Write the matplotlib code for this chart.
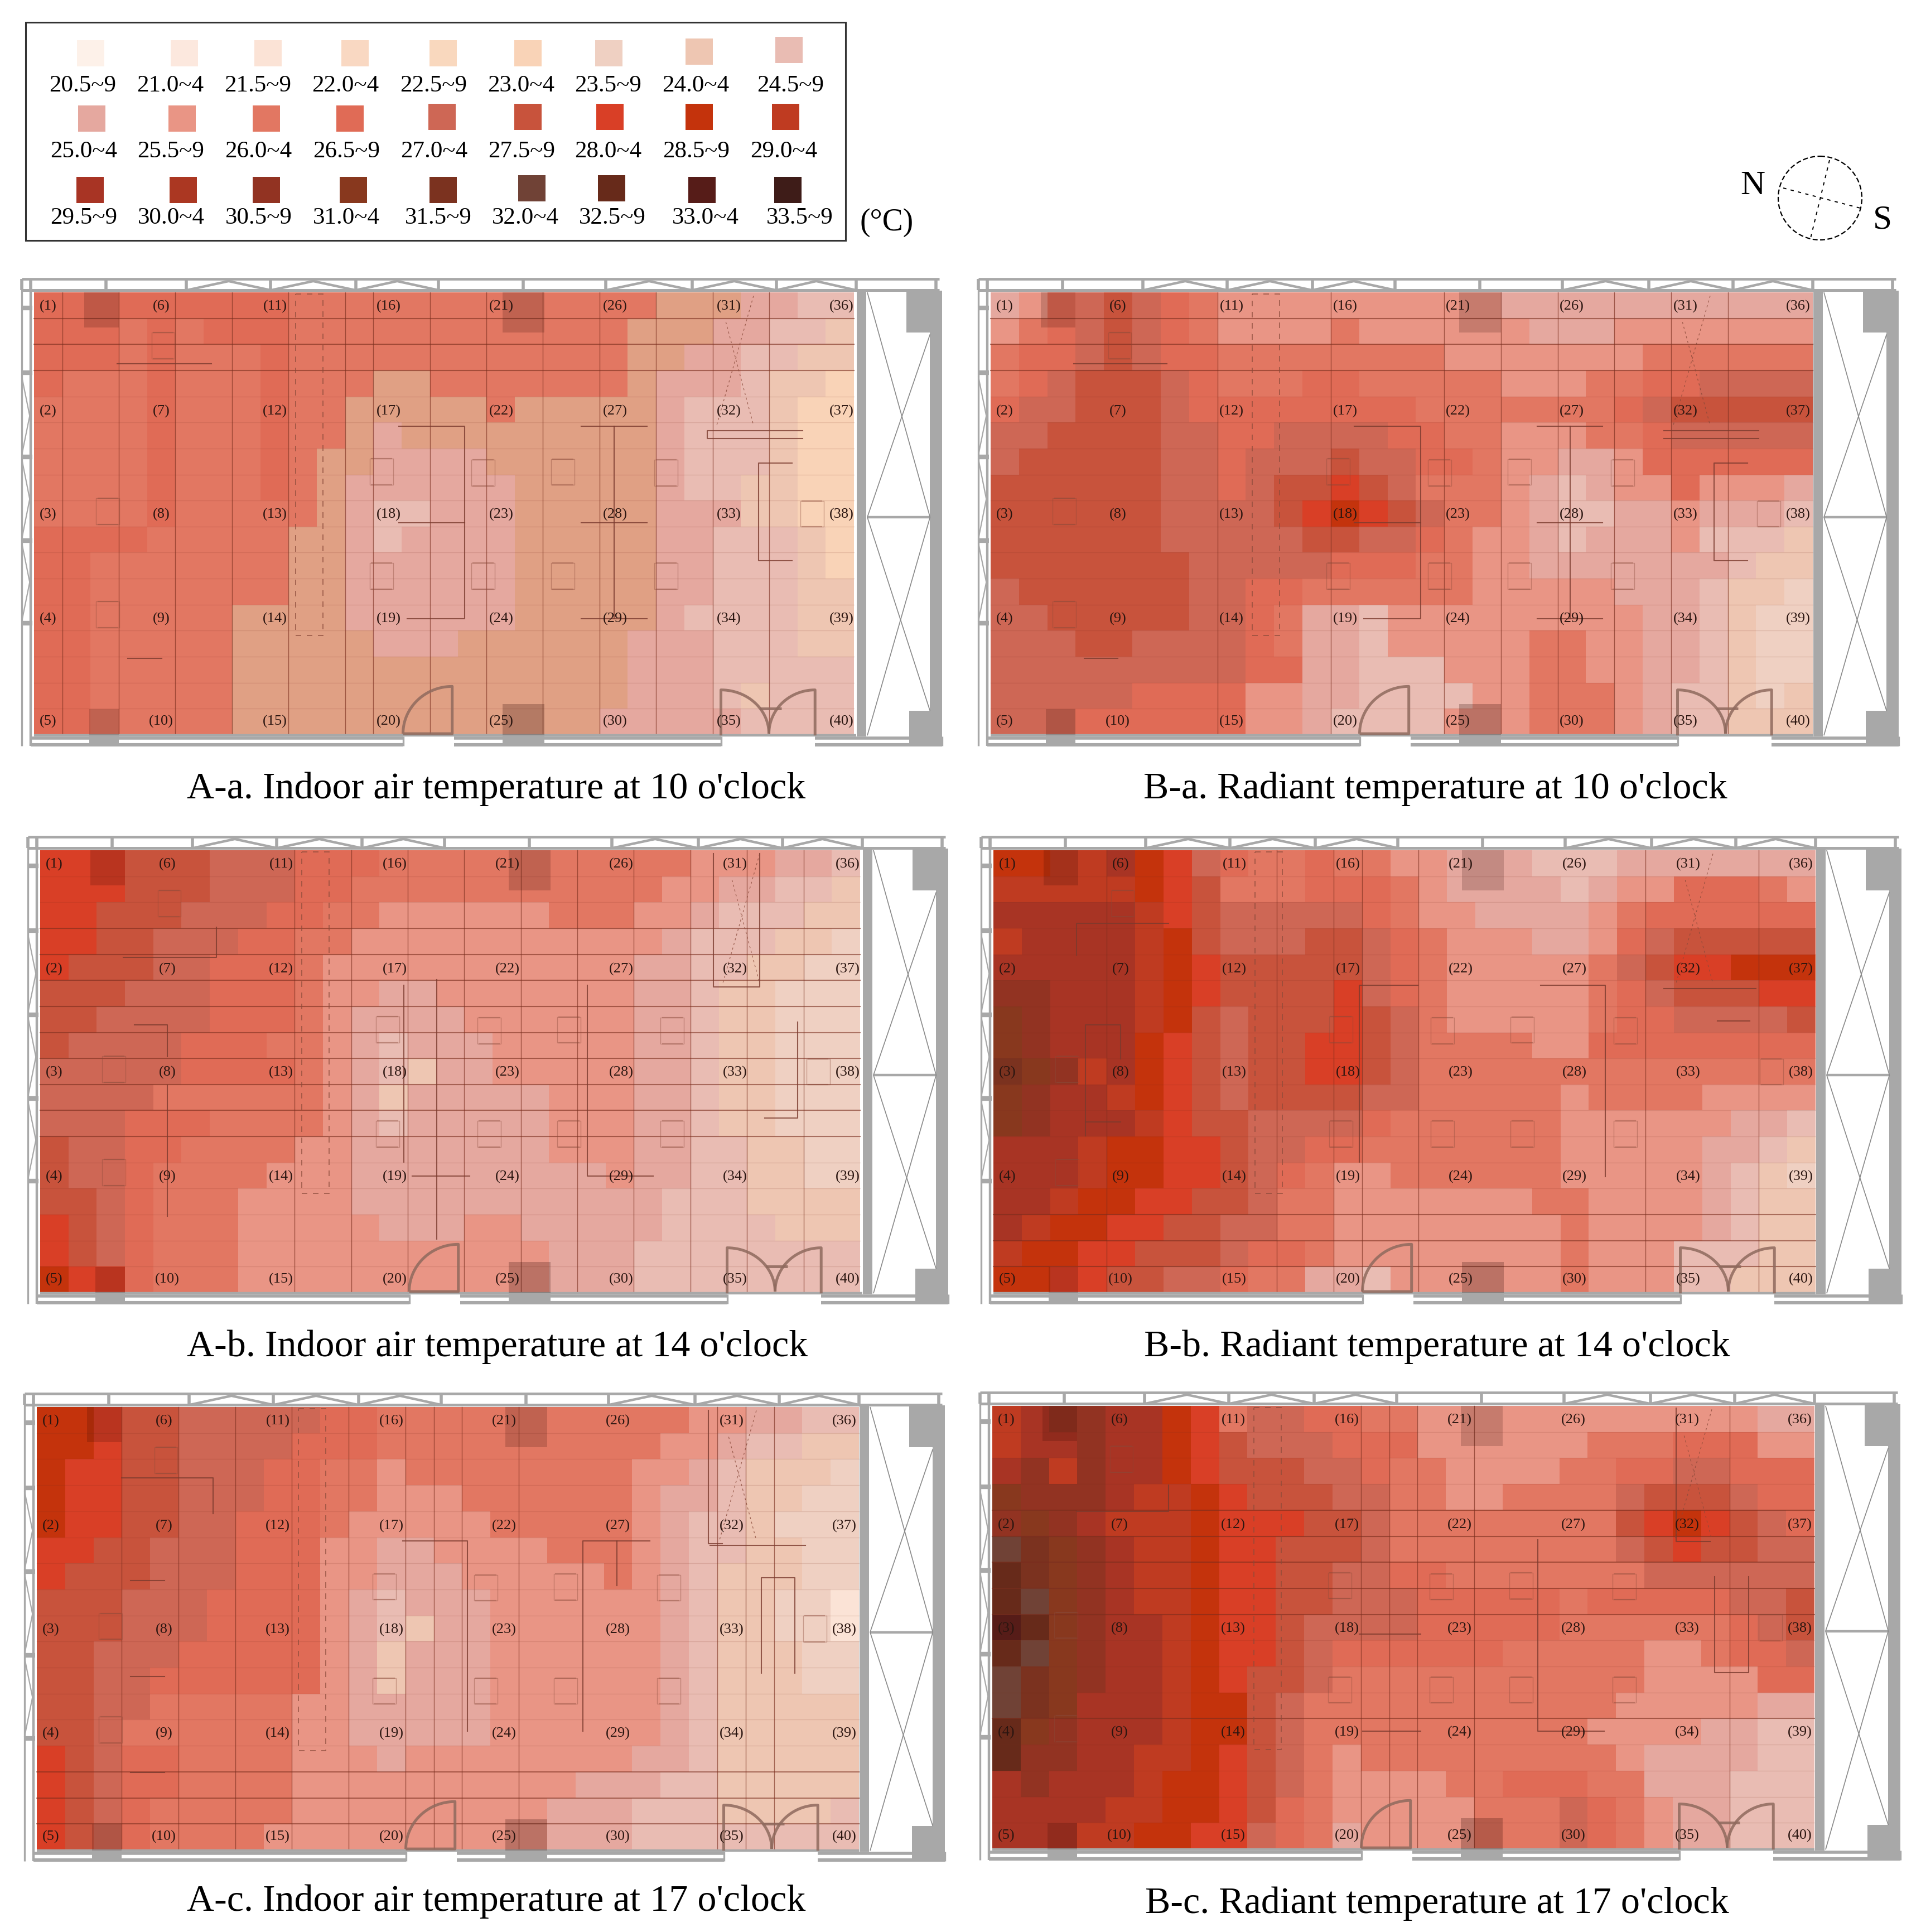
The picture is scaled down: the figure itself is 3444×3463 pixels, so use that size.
import numpy as np
import matplotlib
matplotlib.use('Agg')
import matplotlib.pyplot as plt
from matplotlib.colors import ListedColormap, BoundaryNorm
from matplotlib.patches import Rectangle, Circle

plt.rcParams['font.family'] = ['Liberation Serif', 'DejaVu Sans']

# one letter per temperature class, a = 20.5~9 ... z = 33.0~4, 0 = 33.5~9
level_codes = 'abcdefghijklmnopqrstuvwxyz0'
level_temps = [20.5 + 0.5 * i for i in range(27)]
level_colors = ['#FDF1E9', '#FCE8DE', '#FBE3D6', '#F9D8C2', '#F9D8BE', '#F9D3B7', '#EFD0C2', '#EEC6B2', '#E9BCB3',
                '#E5A89F', '#E99585', '#E27762', '#E06B56', '#CE6755', '#C8533C', '#D93F26', '#C4330C', '#BF3B21',
                '#A83424', '#AB3722', '#923322', '#88381E', '#7B321F', '#704236', '#672A1A', '#561C18', '#3E1C18']
legend_labels = ['20.5~9', '21.0~4', '21.5~9', '22.0~4', '22.5~9', '23.0~4', '23.5~9', '24.0~4', '24.5~9',
                 '25.0~4', '25.5~9', '26.0~4', '26.5~9', '27.0~4', '27.5~9', '28.0~4', '28.5~9', '29.0~4',
                 '29.5~9', '30.0~4', '30.5~9', '31.0~4', '31.5~9', '32.0~4', '32.5~9', '33.0~4', '33.5~9']

air_10 = [
    'mmmmmmmmmlllllllllllllkkkjjii', 'mmmlmlmmmllllllllllllkkkjjiih', 'mmmlmlllmllllllllllllkkjjiihh',
    'mlllmlllmlllkklllllllkjjjihhf', 'llllmlllmllkkkkklkkkkkjiiihff', 'llllmlllmllkjkkkkkkkkkjiiihff',
    'llllmlllmlkkjjjjkkkkkkjiiihff', 'llllmlllmlkjjjjjjkkkkkjiihhff', 'llllmlllllkjiijjjkkkkkjjjhhff',
    'mmmmlllllkkjijjjjkkkkkjjiiihf', 'mmlllllllkkjjjjjjkkkkkjjiiihf', 'mmlllllllkkjjjjjjkkkkkjjiiihh',
    'mmlllllkkkkjjjjjjkkkkkjiiiihh', 'mmlllllkkkkkjjjkkkkkkjjjiiihh', 'mmlllllkkkkkkkkkkkkkkjjjiiiii',
    'mmlllllkkkkkkkkkkkkkkjjjihiii', 'mmlllllkkkkkkkkkkkkkjjjjjiiii']
radiant_10 = [
    'jkmnonmlkkkkkkkkkkjjjjjjjjjjj', 'klmnonmlkkkklkkkkkkjjjkkkkkkk', 'lmmnonmmllllllllkkkkkkkllllll',
    'lmnooonmlllmmlllllkkkllmmnnnn', 'mnnooonmmmmmmmmlllllllmnooooo', 'nnoooonnmmnnnnmmllkkkllmnnnnn',
    'nooooonnmnnnonnmmlkkjjkmmmmmm', 'oooooonnmnooponlllkjijkkmkkkj', 'oooooonnnnopqponllkjiijjkjjji',
    'oooooonnnnnoonnmlkkjijjjkiiih', 'ooooooonnnnnmmmllkkjjjjjjjihh', 'noooooonnmmllllllkkkkkjjjihhg',
    'nnooooonnmljjikkkkkkkkkjjihgg', 'nnnoonnnnmljjikkkkkllkkjjihgg', 'nnnnnnnnnmmjjiiikkkllkkjjihgg',
    'nnnnnmmmmkkjjiiiikklllkjiihgh', 'nnnmmmmmmkkjiiiikkklllkjiihhh']
air_14 = [
    'pppooonnnmmmlllllllllllkkkjji', 'pppooonnnmmlllllllllllkkjjiih', 'ppooonnnmmllkkkkkklllkkjiiihh',
    'ppoonnnmmllkkkkkkkkkkkjiiihhg', 'pooonnmmmlkkkkkkkkkkkjjiihhgg', 'ooonnnmmmlkkjjkkkkkkkjjihhggg',
    'oonnnnmmmlkjjjjkkkkkkjjihhggg', 'onnnnmmmllkjijjjkkkkkjjihhggg', 'nnnnnmmmmlkjihjjkkkkkjjihhggg',
    'nnnnllllllkjhjjjjjkkkjjihhggg', 'nnnmmmllllkjijjjjjkkkjjihhggg', 'onnmmllllkkjjjjjjjkkkjjiihhgg',
    'onnmllllkkkjjjjjjjjjkjjiihhgg', 'oonmlllkkkkjjjjjjjjjjjiiihhhh', 'ponmlllkkkkkjjjkkjjjjjiiiihhh',
    'ponmlllkkkkkkkkkkkjjjiiiiiiii', 'qppmlllkkkkkkkkkkkjjjiiiiiiii']
radiant_14 = [
    'qqrrsqpnmllmllkkjjjiiijjjjjjj', 'rrrrrqpolllmmmlkjjjjijkkmmmlk', 'sssssrponnnnnmlkkjjjjklmmmmmm',
    'rssssrqonnnoonmlkkkjjkmnooooo', 'sssssrqpooooonmlkkkkklnoppqqq', 'uusssrqpoooopnmlkkkkklmnooopp',
    'vusssrqonoooponlkkkkklmmnnnno', 'vusssqponoopponllllkkmmmmmmmm', 'wvursqponoopponllllllllllllll',
    'vussrqponoooonnlllllkllllkkkk', 'vusssrpoonnnnmllllllkkkkkkjji', 'sssrqqpponnmmlllllllkkkkkjjih',
    'sssrqqpponmlkkllllllkkkkkjihg', 'ssrqqppoonllkkkkkkkllkkkkjihh', 'srqqppoonnllkkkkkkkklkkkkjihh',
    'rqqppooonmmlkkkkkkkklkkkiiihh', 'qqppoonnmlljjikkkkkklkkkiihhh']
air_17 = [
    'qqpoonnnnnmmlllllllllllkkjjii', 'qqpoonnnnmmmllllllllllkkjiihh', 'qppoonnnmmllkllllllllkkjihhhg',
    'qppoonnnmmllkkkllllllkjjihhgg', 'qppoonnmmmlkkkkklllllkjiihggg', 'ppoonnnmmmkkjjkkkklllkjiihhgg',
    'pooonnnmmmkkjjjkkkkklkjihhhgg', 'ooonnnmmmmkjijjjkkkkkkjihhggc', 'ooonnnmmmmkjihjjkkkkkkjihhggc',
    'oonnnmmmmmkjhjjjkkkkkkjihhhgg', 'oonnmmmmmmkjhjjjkkkkkkjihhhgg', 'oonnlllllkkjjjjjkkkkkkjihhhhh',
    'oonllllllkkjjjjjkkkkkkjihhhhh', 'ponmmllllkkkjkkkkkkkkjjihhhhh', 'ponmmllllkkkkkkkkkkjjjiihhhhh',
    'ponmlllllkkkkkkkkkjjjiiihhhhi', 'ponmllllkkkkkkkkkkjjjiiiiiiii']
radiant_17 = [
    'rsuussqplnnmmllkkkkkkkkkkkkjj', 'rssussqponnnmmmkkkkkklllmmmkk', 'surussqpooonnmllkkkkllmmnnmmm',
    'vuuusrrqpooonnllkkllllnooonmm', 'uvusrrrqpppoonllllllllopqponm', 'xwvusrrqppooonllllllllnopoonn',
    'ywvusrrqppoonnmmlllllllnnnnnn', 'yxvusrrqppoonnnmmmmmlmmmmmnno', 'zyvussrqpponnnnmmmmmllllllmno',
    'yxvussrqpponmmmmmmlllllkklmmn', 'xwvussrqpoonlllllllllllkkkkmm', 'xwvsssrqqonlllllllllllkkkkkjj',
    'yvusssrqqonllllllllllkkkkjjii', 'yuussrrqponlklllllllllkjjjjii', 'susssrqqponlkkkkllmmmlljjjiii',
    'ssssrrqqpomlkkkkklllnmlkjjiii', 'sssrrqqppnmljkkkklllnmlkjjiii']

titles = ["A-a. Indoor air temperature at 10 o'clock", "B-a. Radiant temperature at 10 o'clock",
          "A-b. Indoor air temperature at 14 o'clock", "B-b. Radiant temperature at 14 o'clock",
          "A-c. Indoor air temperature at 17 o'clock", "B-c. Radiant temperature at 17 o'clock"]
room_numbers = [['(%d)' % (5 * c + r + 1) for r in range(5)] for c in range(8)]

GREY = '#A8A8A8'
BROWN = '#7A2E1E'


def to_temps(rows):
    for r in rows:
        assert len(r) == 29, r
    return np.array([[level_temps[level_codes.index(c)] for c in r] for r in rows])


def draw_heat(ax, rows, box, tan_bin=False):
    x0, x1, y0, y1 = box
    colors = list(level_colors)
    if tan_bin:
        # first panel prints the 25.5 class in a tan, not the salmon of the legend
        colors[10] = '#E0A084'
    edges = [t - 0.25 for t in level_temps] + [level_temps[-1] + 0.25]
    ax.pcolormesh(np.linspace(x0, x1, 30), np.linspace(y0, y1, 18), to_temps(rows),
                  cmap=ListedColormap(colors), norm=BoundaryNorm(edges, 27), antialiased=False, zorder=1)


def draw_plan(ax, box):
    x0, x1, y0, y1 = box
    sy_ = (y1 - y0) / 1263.

    def g(px, py):
        return x0 + (px - 55) / .907, y0 + (py - 70) * sy_

    def line(pts, color=GREY, lw=2.8, **kw):
        xy = [g(*p) for p in pts]
        ax.plot([p[0] for p in xy], [p[1] for p in xy], color=color, lw=lw, zorder=3, solid_capstyle='butt', **kw)

    def block(a, b, c, d, color=GREY, alpha=1., z=3):
        xa, ya = g(a, b)
        xb, yb = g(c, d)
        ax.add_patch(Rectangle((xa, ya), xb - xa, yb - ya, fc=color, ec='none', alpha=alpha, zorder=z))

    # truss
    line([(35, 32), (1527, 32)], lw=3.4)
    line([(35, 64), (1527, 64)], lw=3.6)
    for px in [35, 50, 172, 303, 440, 578, 713, 850, 985, 1125, 1262, 1392, 1522]:
        line([(px, 32), (px, 64)], lw=4)
    for a, b in [(303, 440), (440, 578), (578, 713), (985, 1125), (1125, 1262), (1262, 1392)]:
        line([(a, 64), ((a + b) / 2, 38), (b, 64)], lw=3.2)
    # left wall
    line([(35, 32), (35, 1365)], lw=2.4)
    line([(50, 32), (50, 1365)], lw=3.2)
    for py in [115, 300, 540, 778, 1015]:
        line([(35, py), (52, py)], lw=6)
    for a, b in [(310, 535), (545, 775), (785, 1010)]:
        line([(35, a), (48, (a + b) / 2), (35, b)], lw=1.6)
    # bottom wall
    for a, b in [(50, 655), (738, 1172), (1325, 1532)]:
        line([(a, 1342), (b, 1342)], lw=4)
        line([(a, 1362), (b, 1362)], lw=4.4)
        line([(b, 1338), (b, 1365)], lw=2.4)
    line([(55, 1335), (1392, 1335)], lw=3.2)
    block(145, 1335, 193, 1365)
    block(817, 1335, 885, 1365)
    # pillars over the heat map
    block(137, 70, 193, 170, '#2a0500', .18)
    block(817, 70, 885, 185, '#2a0500', .18)
    block(145, 1260, 193, 1335, '#2a0500', .18)
    block(817, 1245, 885, 1335, '#2a0500', .24)
    # right side room
    block(1393, 68, 1408, 1338)
    block(1474, 66, 1532, 185)
    block(1478, 1265, 1532, 1365)
    block(1512, 185, 1532, 1265)
    line([(1410, 712), (1512, 712)], lw=3.2)
    line([(1410, 70), (1512, 712), (1410, 1335)], lw=1.2, color='#8a8a8a')
    line([(1512, 190), (1410, 712), (1512, 1265)], lw=1.2, color='#8a8a8a')

    # chairs
    for px, py in [(620, 582), (785, 585), (915, 583), (1083, 585), (620, 880), (785, 880), (915, 880), (1083, 880),
                   (175, 695), (175, 990), (265, 222), (1320, 702)]:
        xa, ya = g(px - 19, py - 37)
        xb, yb = g(px + 19, py + 37)
        ax.add_patch(Rectangle((xa, ya), xb - xa, yb - ya, fc='none', ec='#8a4a3a', lw=1.0, alpha=.4, zorder=3))
        line([(px - 17, py - 37), (px + 17, py - 37)], color='#8a4a3a', lw=1.6, alpha=.4)
        line([(px - 17, py + 37), (px + 17, py + 37)], color='#8a4a3a', lw=1.6, alpha=.4)

    # duct and fan marks, dashed
    xa, ya = g(480, 75)
    xb, yb = g(525, 1050)
    ax.add_patch(Rectangle((xa, ya), xb - xa, yb - ya, fc='none', ec='#8a4a3a', lw=1.2, ls=(0, (6, 6)), alpha=.8, zorder=3))
    line([(1180, 155), (1225, 450)], color='#8a4a3a', lw=.9, ls=(0, (3, 4)), alpha=.8)
    line([(1225, 80), (1165, 450)], color='#8a4a3a', lw=.9, ls=(0, (3, 4)), alpha=.8)

    # doors
    t = np.linspace(0, np.pi / 2, 30)
    door = '#8F6A5E'
    line(list(zip(735 - 80 * np.cos(t), 1330 - 135 * np.sin(t))) + [(735, 1330), (655, 1330)], color=door, lw=3.6, alpha=.85)
    line([(1172, 1335), (1172, 1205)] + list(zip(1172 + 78 * np.sin(t), 1330 - 125 * np.cos(t))), color=door, lw=3.6, alpha=.85)
    line([(1325, 1335), (1325, 1205)] + list(zip(1325 - 75 * np.sin(t), 1330 - 125 * np.cos(t))), color=door, lw=3.6, alpha=.85)
    line([(1235, 1258), (1270, 1258)], color=door, lw=3.6, alpha=.85)

    # room numbers
    for c, px in enumerate([78, 262, 447, 632, 815, 1000, 1185, 1368]):
        for r, py in enumerate([110, 410, 705, 1002, 1295]):
            xt, yt = g(px, py)
            ax.text(xt, yt, room_numbers[c][r], ha='center', va='center', fontsize=19, color='#2a1510', zorder=5)


def draw_lines(ax, box, base, vcols, hrows, faint_rows, furniture, strong=.55):
    # grid lines of the survey and the desk outlines, different on every panel
    x0, x1, y0, y1 = box
    xs = np.linspace(x0, x1, 30)
    ys = np.linspace(y0, y1, 18)
    for c in vcols:
        ax.plot([xs[c], xs[c]], [y0, y1], color=BROWN, lw=1.0, alpha=.65, zorder=2)
    for r in hrows:
        ax.plot([x0, x1], [ys[r], ys[r]], color=BROWN, lw=1.5, alpha=strong, zorder=2)
    for r in faint_rows:
        ax.plot([x0, x1], [ys[r], ys[r]], color=BROWN, lw=1.0, alpha=.14, zorder=2)
    sy_ = (y1 - y0) / 1263.
    for pts in furniture:
        px = [x0 + (p[0] - base[0]) / .907 for p in pts]
        py = [y0 + (p[1] - base[1]) * sy_ for p in pts]
        ax.plot(px, py, color='#7A3A2E', lw=1.5, alpha=.8, zorder=3)


boxes = [(61, 1531, 524, 1317), (1776, 3250, 524, 1317),
         (72, 1542, 1524, 2317), (1781, 3255, 1524, 2317),
         (66, 1540, 2522, 3316), (1779, 3253, 2520, 3314)]
panel_rows = [air_10, radiant_10, air_14, radiant_14, air_17, radiant_17]
title_pos = [(890, 1414), (2573, 1414), (892, 2414), (2576, 2414), (890, 3408), (2576, 3412)]
bases = [(55, 70), (51, 70), (65, 70), (55, 70), (60, 66), (53, 64)]
v_lines = [[1, 3, 5, 7, 9, 11, 12, 14, 16, 18, 20, 22, 24, 26],
           [8, 12, 16, 18, 20, 22, 24, 26],
           [9, 11, 13, 15, 17, 19, 21, 23, 25, 27],
           [4, 10, 12, 13, 15, 23, 27],
           [3, 5, 7, 9, 11, 13, 14, 15, 17, 24, 25, 26],
           [13, 14, 15, 17, 26]]
h_lines = [[1, 2, 3], [1, 2, 3], [3, 4, 5, 6, 7, 8, 9, 10, 11], [14, 15, 16], [14, 15, 16], [4, 5, 6, 7, 8, 12]]
furniture_lines = [
    [[(648, 453), (755, 453), (755, 1002), (662, 1002)], [(648, 728), (755, 728)], [(945, 453), (1052, 453)],
     [(998, 453), (998, 1002)], [(945, 728), (1052, 728)], [(945, 1002), (1052, 1002)],
     [(1305, 465), (1150, 465), (1150, 488), (1305, 488)], [(1288, 557), (1233, 557), (1233, 836), (1288, 836)],
     [(190, 274), (343, 274)], [(207, 1115), (263, 1115)]],
    [[(642, 453), (750, 453), (750, 1002), (658, 1002)], [(642, 728), (750, 728)], [(940, 453), (1046, 453)],
     [(993, 453), (993, 1002)], [(940, 728), (1046, 728)], [(940, 1002), (1046, 1002)],
     [(1146, 465), (1300, 465)], [(1146, 488), (1300, 488)], [(1282, 557), (1227, 557), (1227, 836), (1282, 836)],
     [(186, 274), (338, 274)], [(203, 1115), (258, 1115)]],
    [[(656, 455), (656, 960)], [(710, 440), (710, 1180)], [(670, 1000), (763, 1000)],
     [(955, 455), (955, 1000), (1062, 1000)], [(1160, 80), (1160, 460), (1235, 460), (1235, 80)],
     [(1297, 560), (1297, 835), (1243, 835)], [(218, 568), (272, 568), (272, 660)], [(272, 740), (272, 1115)],
     [(200, 375), (352, 375), (352, 290)]],
    [[(745, 455), (650, 455), (650, 960)], [(945, 455), (1050, 455), (1050, 1002)], [(1145, 465), (1295, 465)],
     [(1232, 558), (1285, 558)], [(205, 885), (205, 568), (262, 568), (262, 665)], [(205, 845), (262, 845)],
     [(190, 370), (190, 278), (340, 278)]],
    [[(655, 447), (760, 447), (760, 990)], [(948, 990), (948, 447), (1057, 447)], [(1003, 447), (1003, 575)],
     [(1155, 460), (1310, 460)], [(1152, 75), (1152, 455), (1175, 455)],
     [(1238, 825), (1238, 552), (1293, 552), (1293, 825)], [(198, 268), (347, 268), (347, 370)],
     [(212, 560), (268, 560)], [(212, 835), (268, 835)], [(212, 1108), (268, 1108)]],
    [[(650, 715), (750, 715)], [(940, 445), (940, 992), (1048, 992)], [(1165, 70), (1165, 450), (1220, 450)],
     [(1228, 550), (1228, 825), (1283, 825), (1283, 550)], [(190, 365), (340, 365), (340, 290)],
     [(655, 992), (750, 992)]],
]

# legend layout in px
swatch_left = [138, 306, 456, 612, 770, 922, 1067, 1229, 1390,
               140, 302, 453, 603, 768, 922, 1069, 1229, 1384,
               137, 304, 453, 609, 770, 929, 1072, 1234, 1388]
swatch_top = [72, 72, 72, 72, 72, 72, 72, 69, 66,
              189, 189, 189, 189, 186, 186, 186, 186, 186,
              317, 317, 317, 317, 317, 314, 314, 317, 317]
label_x = [148, 305, 462, 619, 777, 934, 1090, 1247, 1417,
           150, 306, 463, 621, 778, 935, 1090, 1248, 1405,
           150, 307, 464, 621, 786, 942, 1098, 1265, 1434]

fig = plt.figure(figsize=(34.44, 34.63), dpi=100)
ax = fig.add_axes([0, 0, 1, 1])
ax.set_xlim(0, 3444)
ax.set_ylim(3463, 0)
ax.axis('off')

for i in range(6):
    draw_heat(ax, panel_rows[i], boxes[i], tan_bin=(i == 0))
    draw_lines(ax, boxes[i], bases[i], v_lines[i], h_lines[i], range(1, 17), furniture_lines[i])
    draw_plan(ax, boxes[i])
    ax.text(title_pos[i][0], title_pos[i][1], titles[i], ha='center', va='center', fontsize=49, color='black')

# legend
ax.add_patch(Rectangle((46, 40), 1470, 391, fc='none', ec='#333333', lw=2.2, zorder=4))
for i in range(27):
    ax.add_patch(Rectangle((swatch_left[i], swatch_top[i]), 49, 47, fc=level_colors[i], ec='none', zorder=4))
    ax.text(label_x[i], [154, 272, 391][i // 9], legend_labels[i], ha='center', va='center', fontsize=31, color='black')
ax.text(1590, 399, '(°C)', ha='center', va='center', fontsize=40, color='black')

# compass
ax.add_patch(Circle((3263, 355), 75, fc='none', ec='black', lw=1.6, ls=(0, (4, 2))))
ax.plot([3197, 3335], [337, 373], color='black', lw=1.4, ls=(0, (3, 4)))
ax.plot([3280, 3246], [287, 427], color='black', lw=1.4, ls=(0, (3, 4)))
ax.text(3142, 333, 'N', ha='center', va='center', fontsize=44, color='black')
ax.text(3375, 395, 'S', ha='center', va='center', fontsize=44, color='black')

fig.savefig('out.png', dpi=100)
